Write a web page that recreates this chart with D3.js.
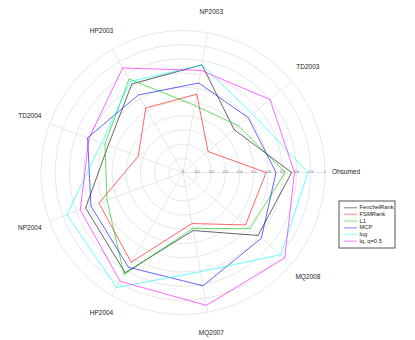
<!DOCTYPE html>
<html>
<head>
<meta charset="utf-8">
<script src="https://cdn.jsdelivr.net/npm/d3@7"></script>
<style>
  body { margin: 0; background: #fff; }
  text { font-family: "Liberation Sans", Arial, sans-serif; }
</style>
</head>
<body>
<div id="container"></div>
<script>
// radar chart, 9 datasets x 6 methods
let w = 415;
let h = 340;
let cx = 183, cy = 172.5;
let outerRadius = 142;

let axesNames = ["Ohsumed", "TD2003", "NP2003", "HP2003", "TD2004", "NP2004", "HP2004", "MQ2007", "MQ2008"];
let tickValues = [0, 0.1, 0.2, 0.3, 0.4, 0.5, 0.6, 0.7, 0.8, 0.9, 1];
let tickLabels = ["0", "0.1", "0.2", "0.3", "0.4", "0.5", "0.6", "0.7", "0.8", "0.9", "1"];

let seriesNames = ["FenchelRank", "FSMRank", "L1", "MCP", "log", "lq, q=0.5"];
let seriesColors = ["#000000", "#ff0000", "#00c800", "#0000ff", "#00ffff", "#ff00ff"];

let fenchelRank = [0.765, 0.47, 0.77, 0.72, 0.56, 0.73, 0.815, 0.415, 0.69];
let fsmRank     = [0.585, 0.23, 0.56, 0.525, 0.335, 0.63, 0.73, 0.365, 0.575];
let l1          = [0.72, 0.51, 0.48, 0.76, 0.585, 0.57, 0.83, 0.40, 0.615];
let mcp         = [0.655, 0.60, 0.64, 0.63, 0.715, 0.69, 0.77, 0.81, 0.72];
let logPen      = [0.88, 0.64, 0.77, 0.74, 0.61, 0.87, 0.935, 0.71, 0.90];
let lqHalf      = [0.785, 0.80, 0.73, 0.85, 0.705, 0.77, 0.885, 0.95, 0.935];

let allSeries = [fenchelRank, fsmRank, l1, mcp, logPen, lqHalf];

let viz = d3.select("#container")
  .append("svg")
    .attr("width", w)
    .attr("height", h)
    .style("background-color", "white");

let rScale = d3.scaleLinear().domain([0, 1]).range([0, outerRadius]);
// first axis points right, others go counter-clockwise
let angleScale = d3.scaleLinear().domain([0, axesNames.length]).range([Math.PI / 2, Math.PI / 2 - 2 * Math.PI]);

let g = viz.append("g").attr("transform", "translate(" + cx + "," + cy + ")");

// grid circles
g.selectAll(".ring").data(tickValues.slice(1)).enter()
  .append("circle")
    .attr("r", d => rScale(d))
    .attr("fill", "none")
    .attr("stroke", "#e8e8e8")
    .attr("stroke-width", 1);

// spokes
g.selectAll(".spoke").data(axesNames).enter()
  .append("line")
    .attr("x1", 0).attr("y1", 0)
    .attr("x2", (d, i) => rScale(1) * Math.sin(angleScale(i)))
    .attr("y2", (d, i) => -rScale(1) * Math.cos(angleScale(i)))
    .attr("stroke", "#e8e8e8")
    .attr("stroke-width", 1);

// tick labels along first axis
g.selectAll(".tick").data(tickValues).enter()
  .append("text")
    .attr("x", d => rScale(d))
    .attr("y", 0)
    .attr("text-anchor", "middle")
    .attr("dominant-baseline", "middle")
    .attr("font-size", 3.6)
    .attr("fill", "#666")
    .text((d, i) => tickLabels[i]);

// axis labels
g.selectAll(".axislabel").data(axesNames).enter()
  .append("text")
    .attr("x", (d, i) => 163 * Math.sin(angleScale(i)))
    .attr("y", (d, i) => -163 * Math.cos(angleScale(i)))
    .attr("text-anchor", "middle")
    .attr("dominant-baseline", "middle")
    .attr("font-size", 6.5)
    .attr("fill", "#222")
    .text(d => d);

let radar = d3.lineRadial()
  .angle((d, i) => angleScale(i))
  .radius(d => rScale(d))
  .curve(d3.curveLinearClosed);

g.selectAll(".series").data(allSeries).enter()
  .append("path")
    .attr("d", radar)
    .attr("fill", "none")
    .attr("stroke", (d, i) => seriesColors[i])
    .attr("stroke-opacity", 0.6)
    .attr("stroke-width", 1);

// legend
let legend = viz.append("g").attr("transform", "translate(339,201)");
legend.append("rect")
  .attr("x", 0).attr("y", 0)
  .attr("width", 56).attr("height", 47)
  .attr("fill", "white")
  .attr("stroke", "#555")
  .attr("stroke-width", 1);

let rows = legend.selectAll(".row").data(seriesNames).enter()
  .append("g")
    .attr("transform", (d, i) => "translate(0," + (6.7 + i * 6.7) + ")");
rows.append("line")
  .attr("x1", 5).attr("x2", 18)
  .attr("y1", 0).attr("y2", 0)
  .attr("stroke", (d, i) => seriesColors[i])
  .attr("stroke-opacity", 0.35)
  .attr("stroke-width", 1.5);
rows.append("text")
  .attr("x", 20.5)
  .attr("y", 0)
  .attr("dominant-baseline", "middle")
  .attr("font-size", 5.8)
  .attr("fill", "#222")
  .text(d => d);
</script>
</body>
</html>
